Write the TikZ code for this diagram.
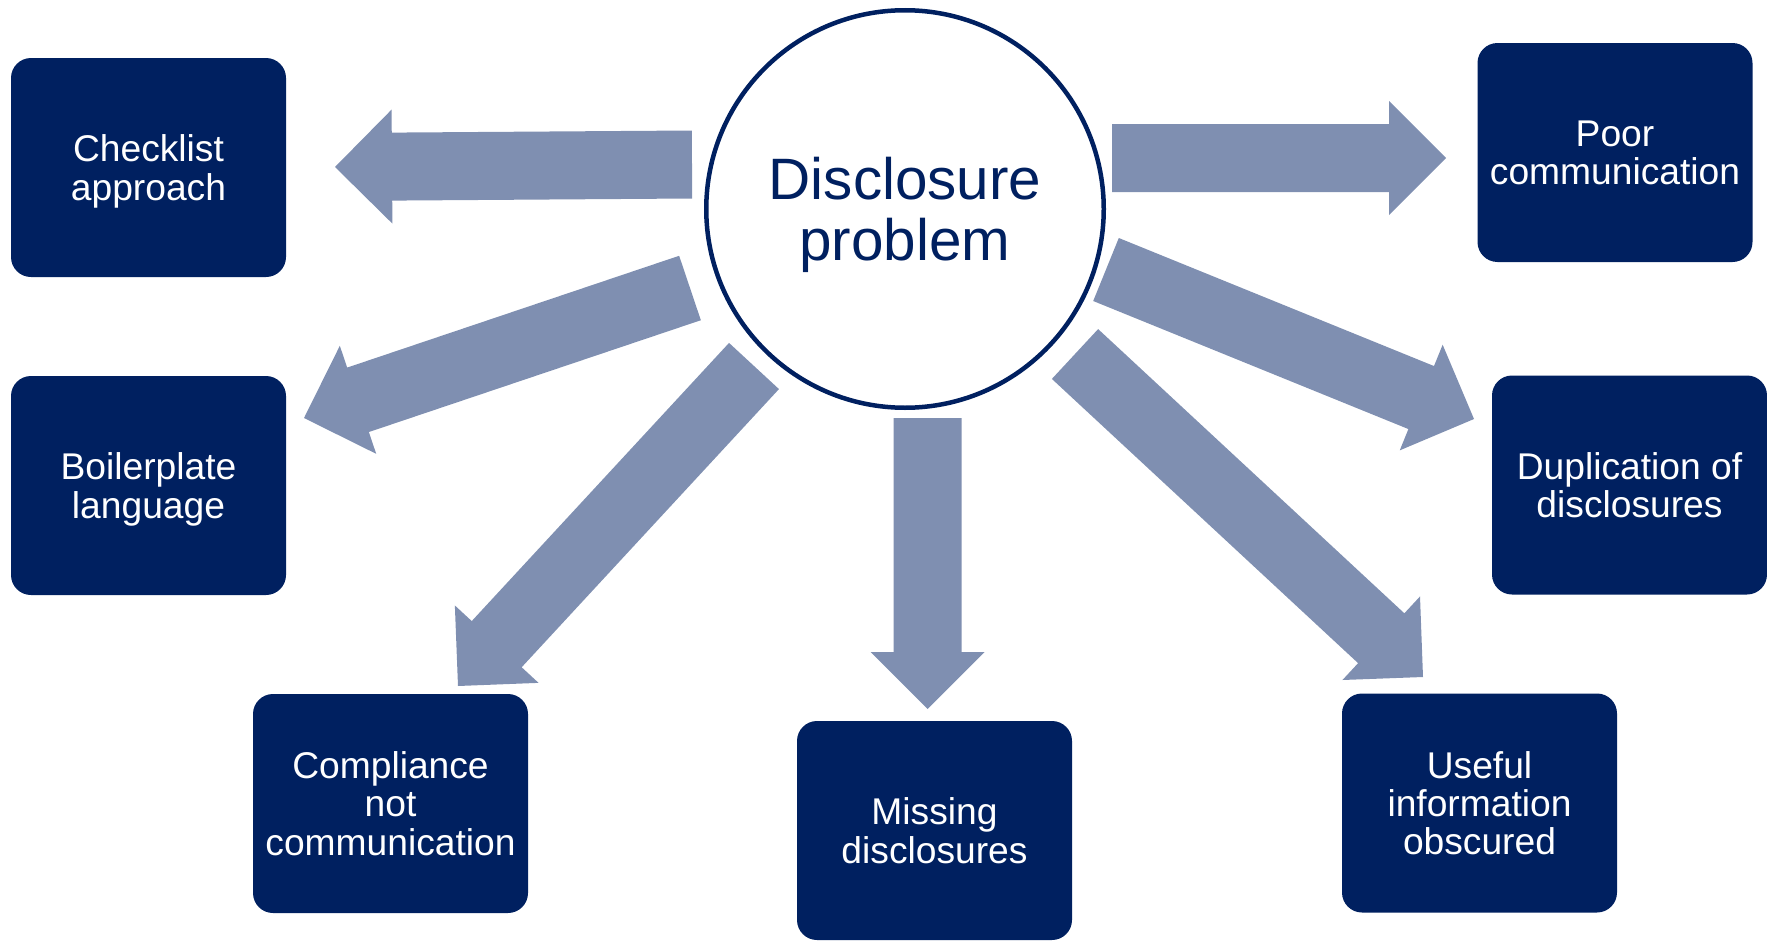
\documentclass[tikz,border=0pt]{standalone}
\usepackage{fontspec}
\setmainfont{Liberation Sans}
\usetikzlibrary{calc}
\definecolor{navy}{RGB}{0,32,96}
\definecolor{steel}{RGB}{127,143,177}
\tikzset{
  hub/.style={circle,draw=navy,line width=2.25pt,fill=white,text=navy,
    minimum size=198.75pt,inner sep=0pt,align=center,text depth=0pt,
    font=\fontsize{29.2}{30.5}\selectfont},
  box/.style={rectangle,rounded corners=10pt,fill=navy,text=white,
    minimum width=137.5pt,minimum height=109.5pt,inner sep=0pt,align=center,
    text depth=0pt,font=\fontsize{18.6}{19.2}\selectfont}
}
% fat arrow from tail #1 to tip #2
\newcommand\fatarrow[2]{%
  \coordinate (#1h) at ($(#2)!28.5pt!(#1)$);
  \fill[steel] ($(#1)!17pt!90:(#2)$) -- ($(#1h)!17pt!90:(#2)$)
    -- ($(#1h)!28.5pt!90:(#2)$) -- (#2)
    -- ($(#1h)!28.5pt!-90:(#2)$) -- ($(#1h)!17pt!-90:(#2)$)
    -- ($(#1)!17pt!-90:(#2)$) -- cycle;}
\begin{document}
\begin{tikzpicture}[x=0.5pt,y=-0.5pt]
      \useasboundingbox (0,0) rectangle (1767,942);
      \draw
        (905,209) node[hub] (hub){Disclosure\\problem}
        (148.5,167.5) node[box] (checklist){Checklist\\approach}
        (1615,152.5) node[box] (poor){Poor\\communication}
        (148.5,485.5) node[box] (boiler){Boilerplate\\language}
        (1629.5,485) node[box] (dupl){Duplication of\\disclosures}
        (390.5,803.5) node[box] (compl){Compliance\\not\\communication}
        (934.5,830.5) node[box] (missing){Missing\\disclosures}
        (1479.5,803) node[box] (useful){Useful\\information\\obscured};
      \path
        (692,164.5) coordinate (t1)  (335,167) coordinate (p1)
        (1112,158) coordinate (t2)   (1446,158) coordinate (p2)
        (690,288) coordinate (t3)    (304,418) coordinate (p3)
        (754,366) coordinate (t4)    (458,686) coordinate (p4)
        (927.5,418) coordinate (t5)  (927.5,709) coordinate (p5)
        (1075,354) coordinate (t6)   (1423,677) coordinate (p6)
        (1106,269.5) coordinate (t7) (1474,419) coordinate (p7);
      \begin{scope}
        \fatarrow{t1}{p1}
        \fatarrow{t2}{p2}
        \fatarrow{t3}{p3}
        \fatarrow{t4}{p4}
        \fatarrow{t5}{p5}
        \fatarrow{t6}{p6}
        \fatarrow{t7}{p7}
      \end{scope}
    \end{tikzpicture}
\end{document}
